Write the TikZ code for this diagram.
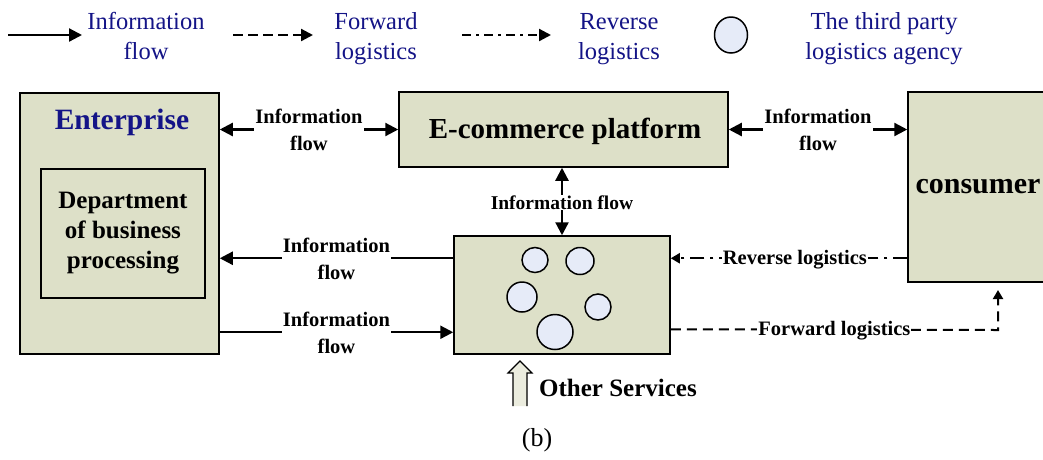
\documentclass[tikz,border=0pt]{standalone}
\usepackage{fontspec}
\setmainfont{Liberation Serif}
\usetikzlibrary{arrows.meta,calc,shapes.geometric}
\definecolor{boxfill}{RGB}{221,224,200}
\definecolor{circfill}{RGB}{230,235,248}
\definecolor{navy}{RGB}{20,20,135}
\begin{document}
\begin{tikzpicture}[x=1pt,y=-1pt,
  box/.style={draw=black, line width=1.5pt, fill=boxfill, inner sep=0pt},
  agency/.style={draw=black, line width=1.5pt, fill=circfill, ellipse, inner sep=0pt},
  lab/.style={fill=white, font=\bfseries\fontsize{20.5}{27}\selectfont, align=center, inner sep=1pt, yshift=-2pt},
  legtext/.style={text=navy, font=\fontsize{24.5}{30}\selectfont, align=center, inner sep=0pt},
  bigtext/.style={font=\bfseries\fontsize{29}{34}\selectfont},
  info/.style={line width=2.3pt, -{Triangle[length=13pt,width=13pt]}},
  dinfo/.style={line width=2.3pt, {Triangle[length=13pt,width=13pt]}-{Triangle[length=13pt,width=13pt]}},
  fwd/.style={line width=2pt, dash pattern=on 10pt off 6pt, -{Triangle[length=9pt,width=10pt]}},
  rev/.style={line width=2pt, dash pattern=on 14pt off 6pt on 3pt off 6pt, -{Triangle[length=9pt,width=10pt]}},
  legfwd/.style={line width=2.3pt, dash pattern=on 10pt off 5pt, -{Triangle[length=12pt,width=12pt]}},
  legrev/.style={line width=2.3pt, dash pattern=on 9pt off 5pt on 3pt off 5pt, -{Triangle[length=12pt,width=12pt]}}
]
\clip (0,0) rectangle (1043,459);
\fill[white] (0,0) rectangle (1043,459);

% ---------- legend ----------
\coordinate (l1a) at (8,35);   \coordinate (l1b) at (82,35);
\coordinate (l2a) at (233,35); \coordinate (l2b) at (313,35);
\coordinate (l3a) at (462,35); \coordinate (l3b) at (551,35);
\draw[info] (l1a) -- (l1b);
\draw[legfwd] (l2a) -- (l2b);
\draw[legrev] (l3a) -- (l3b);
\node[legtext] (lt1) at (146,38.5) {Information\strut\\flow\strut};
\node[legtext] (lt2) at (376,38.5) {Forward\strut\\logistics\strut};
\node[legtext] (lt3) at (619,38.5) {Reverse\strut\\logistics\strut};
\node[agency, minimum width=33pt, minimum height=36pt] (lc) at (731,35) {};
\node[legtext] (lt4) at (884,38.5) {The third party\strut\\logistics agency\strut};

% ---------- boxes ----------
\node[box, minimum width=199pt, minimum height=261pt] (ent) at (119.5,223.5) {};
\node[text=navy, font=\bfseries\fontsize{29.5}{34}\selectfont] (enttitle) at (122,122) {Enterprise};
\node[box, minimum width=164pt, minimum height=129pt, align=center,
      font=\bfseries\fontsize{25}{30}\selectfont] (dept) at (123,233.5)
      {Department\\of business\\processing};
\node[box, minimum width=329pt, minimum height=75pt] (ecom) at (563.5,129.5) {};
\node[bigtext] (ecomtext) at (565,131) {E-commerce platform};
\node[box, minimum width=140pt, minimum height=190pt, font=\bfseries\fontsize{30}{34}\selectfont] (cons) at (978,187) {consumer};
\node[box, minimum width=216pt, minimum height=118pt] (tpl) at (562,295) {};

% agencies
\node[agency, minimum width=26pt, minimum height=25pt] (a1) at (535,260) {};
\node[agency, minimum width=28pt, minimum height=27pt] (a2) at (580,261) {};
\node[agency, minimum width=30pt, minimum height=30pt] (a3) at (522,297) {};
\node[agency, minimum width=26pt, minimum height=26pt] (a4) at (598,307) {};
\node[agency, minimum width=36pt, minimum height=35pt] (a5) at (555,332) {};

% ---------- connectors ----------
\draw[dinfo] (ent.east |- ecom.west) -- node[lab] {Information\strut\\flow\strut} (ecom.west);
\draw[dinfo] (ecom.east) -- node[lab] {Information\strut\\flow\strut} (cons.west |- ecom.east);
\draw[dinfo] (ecom.south -| tpl.north) -- node[lab, yshift=1pt, font=\bfseries\fontsize{19.5}{24}\selectfont] {Information flow} (tpl.north);

\coordinate (tplL1) at ($(tpl.north west)+(0,23)$);
\coordinate (tplL2) at ($(tpl.north west)+(0,97)$);
\coordinate (tplR1) at ($(tpl.north east)+(0,23)$);
\coordinate (tplR2) at ($(tpl.north east)+(0,94)$);
\coordinate (fcorner) at (998,330);
\coordinate (fend) at (998,290);

\draw[info] (tplL1) -- node[lab] {Information\strut\\flow\strut} (ent.east |- tplL1);
\draw[info] (ent.east |- tplL2) -- node[lab] {Information\strut\\flow\strut} (tplL2);
\draw[rev] (cons.west |- tplR1) -- node[lab, pos=0.475, yshift=1pt] {Reverse logistics} (tplR1);
\draw[fwd] (tplR2) -- node[lab, yshift=1pt] {Forward logistics} (fcorner) -- (fend);

% other services
\draw[line width=1.2pt, fill=boxfill!60!white]
  (513,406) -- (513,373) -- (508,373) -- (520,361) -- (532,373) -- (527,373) -- (527,406);
\node[anchor=west, font=\bfseries\fontsize{25}{28}\selectfont, inner sep=0pt] (other) at (539,388) {Other Services};
\node[font=\fontsize{26}{30}\selectfont, inner sep=0pt] (cap) at (537,440) {(b)};
\end{tikzpicture}
\end{document}
